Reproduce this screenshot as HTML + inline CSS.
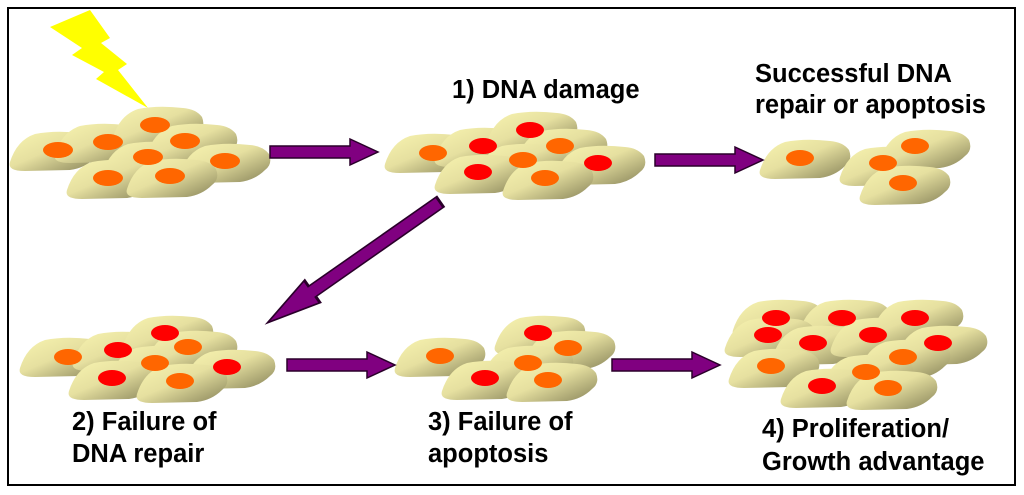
<!DOCTYPE html>
<html><head><style>
html,body{margin:0;padding:0;background:#fff;width:1024px;height:495px;overflow:hidden}
text{font-family:"Liberation Sans",Arial,sans-serif;font-weight:bold;font-size:25.5px;fill:#000}
</style></head><body>
<svg width="1024" height="495" viewBox="0 0 1024 495" xmlns="http://www.w3.org/2000/svg">
<defs>
<linearGradient id="g" x1="0" y1="0" x2="1" y2="1">
<stop offset="0" stop-color="#f8f4b0"/><stop offset="0.45" stop-color="#e6e0a0"/><stop offset="1" stop-color="#868258"/>
</linearGradient>
<symbol id="c" overflow="visible">
<path d="M-45,12 Q-38,-10 -20,-16 Q0,-20 25,-17 Q38,-16 44,-8 Q48,2 40,8 Q30,18 15,20 L-30,21 Q-48,21 -45,12 Z" fill="url(#g)"/>
</symbol>
<g id="arr"><path d="M0,-6 L80,-6 L80,-13 L108,0 L80,13 L80,6 L0,6 Z" fill="#800080" stroke="#2a002a" stroke-width="1.5"/></g>
</defs>
<rect x="8" y="8" width="1007" height="477" fill="#fff" stroke="#000" stroke-width="2"/>
<polygon points="50,27 90,10 110,38 101,43 127,64 118,70 148,108 96,79 104,72 72,55 82,48" fill="#ffff00"/>

<g>
<use href="#c" x="55" y="150"/><use href="#c" x="100" y="142"/><use href="#c" x="158" y="125"/>
<use href="#c" x="192" y="142"/><use href="#c" x="148" y="160"/><use href="#c" x="225" y="162"/>
<use href="#c" x="112" y="178"/><use href="#c" x="172" y="177"/>
<g fill="#ff6600"><ellipse cx="58" cy="150" rx="15" ry="8"/><ellipse cx="108" cy="142" rx="15" ry="8"/><ellipse cx="155" cy="125" rx="15" ry="8"/><ellipse cx="185" cy="141" rx="15" ry="8"/><ellipse cx="148" cy="157" rx="15" ry="8"/><ellipse cx="225" cy="161" rx="15" ry="8"/><ellipse cx="108" cy="178" rx="15" ry="8"/><ellipse cx="170" cy="176" rx="15" ry="8"/></g>
</g>
<g>
<use href="#c" x="430" y="152"/><use href="#c" x="480" y="146"/><use href="#c" x="532" y="130"/><use href="#c" x="562" y="147"/>
<use href="#c" x="522" y="162"/><use href="#c" x="600" y="164"/><use href="#c" x="480" y="173"/><use href="#c" x="548" y="179"/>
<ellipse cx="530" cy="130" rx="14" ry="8" fill="#ff0000"/><ellipse cx="483" cy="146" rx="14" ry="8" fill="#ff0000"/>
<ellipse cx="560" cy="146" rx="14" ry="8" fill="#ff6600"/><ellipse cx="433" cy="153" rx="14" ry="8" fill="#ff6600"/>
<ellipse cx="523" cy="160" rx="14" ry="8" fill="#ff6600"/><ellipse cx="598" cy="163" rx="14" ry="8" fill="#ff0000"/>
<ellipse cx="478" cy="172" rx="14" ry="8" fill="#ff0000"/><ellipse cx="545" cy="178" rx="14" ry="8" fill="#ff6600"/>
</g>
<g>
<use href="#c" x="805" y="158"/><use href="#c" x="925" y="148"/><use href="#c" x="885" y="165"/><use href="#c" x="905" y="184"/>
<g fill="#ff6600"><ellipse cx="800" cy="158" rx="14" ry="8"/><ellipse cx="915" cy="146" rx="14" ry="8"/><ellipse cx="883" cy="163" rx="14" ry="8"/><ellipse cx="903" cy="183" rx="14" ry="8"/></g>
</g>
<g>
<use href="#c" x="65" y="356"/><use href="#c" x="118" y="350"/><use href="#c" x="168" y="334"/><use href="#c" x="192" y="349"/>
<use href="#c" x="156" y="364"/><use href="#c" x="230" y="368"/><use href="#c" x="114" y="379"/><use href="#c" x="182" y="382"/>
<ellipse cx="165" cy="333" rx="14" ry="8" fill="#ff0000"/><ellipse cx="118" cy="350" rx="14" ry="8" fill="#ff0000"/>
<ellipse cx="188" cy="347" rx="14" ry="8" fill="#ff6600"/><ellipse cx="68" cy="357" rx="14" ry="8" fill="#ff6600"/>
<ellipse cx="155" cy="363" rx="14" ry="8" fill="#ff6600"/><ellipse cx="227" cy="367" rx="14" ry="8" fill="#ff0000"/>
<ellipse cx="112" cy="378" rx="14" ry="8" fill="#ff0000"/><ellipse cx="180" cy="381" rx="14" ry="8" fill="#ff6600"/>
</g>
<g>
<use href="#c" x="440" y="356"/><use href="#c" x="540" y="334"/><use href="#c" x="570" y="349"/><use href="#c" x="528" y="364"/>
<use href="#c" x="487" y="379"/><use href="#c" x="552" y="381"/>
<ellipse cx="538" cy="333" rx="14" ry="8" fill="#ff0000"/><ellipse cx="568" cy="348" rx="14" ry="8" fill="#ff6600"/>
<ellipse cx="440" cy="356" rx="14" ry="8" fill="#ff6600"/><ellipse cx="528" cy="363" rx="14" ry="8" fill="#ff6600"/>
<ellipse cx="485" cy="378" rx="14" ry="8" fill="#ff0000"/><ellipse cx="548" cy="380" rx="14" ry="8" fill="#ff6600"/>
</g>
<g>
<use href="#c" x="778" y="318"/><use href="#c" x="845" y="318"/><use href="#c" x="918" y="318"/>
<use href="#c" x="770" y="336"/><use href="#c" x="818" y="344"/><use href="#c" x="876" y="336"/><use href="#c" x="942" y="344"/>
<use href="#c" x="905" y="358"/><use href="#c" x="774" y="367"/><use href="#c" x="868" y="373"/><use href="#c" x="826" y="387"/><use href="#c" x="892" y="389"/>
<ellipse cx="776" cy="318" rx="14" ry="8" fill="#ff0000"/><ellipse cx="842" cy="318" rx="14" ry="8" fill="#ff0000"/><ellipse cx="915" cy="318" rx="14" ry="8" fill="#ff0000"/>
<ellipse cx="768" cy="335" rx="14" ry="8" fill="#ff0000"/><ellipse cx="813" cy="343" rx="14" ry="8" fill="#ff0000"/><ellipse cx="873" cy="335" rx="14" ry="8" fill="#ff0000"/><ellipse cx="938" cy="343" rx="14" ry="8" fill="#ff0000"/>
<ellipse cx="903" cy="357" rx="14" ry="8" fill="#ff6600"/><ellipse cx="771" cy="366" rx="14" ry="8" fill="#ff6600"/><ellipse cx="866" cy="372" rx="14" ry="8" fill="#ff6600"/>
<ellipse cx="822" cy="386" rx="14" ry="8" fill="#ff0000"/><ellipse cx="888" cy="388" rx="14" ry="8" fill="#ff6600"/>
</g>

<use href="#arr" transform="translate(270,152)"/>
<use href="#arr" transform="translate(655,160)"/>
<use href="#arr" transform="translate(287,365)"/>
<use href="#arr" transform="translate(612,365)"/>
<path d="M443,208 L297,302 L290,292 L265,320 L303,314 L296,303" fill="none"/>
<use href="#arr" transform="translate(440,202) rotate(145) scale(1.95,1.05)"/>

<text x="452" y="98">1) DNA damage</text>
<text x="755" y="82">Successful DNA</text>
<text x="755" y="113">repair or apoptosis</text>
<text x="72" y="430">2) Failure of</text>
<text x="72" y="462">DNA repair</text>
<text x="428" y="430">3) Failure of</text>
<text x="428" y="462">apoptosis</text>
<text x="762" y="437">4) Proliferation/</text>
<text x="762" y="470">Growth advantage</text>
</svg>
</body></html>
